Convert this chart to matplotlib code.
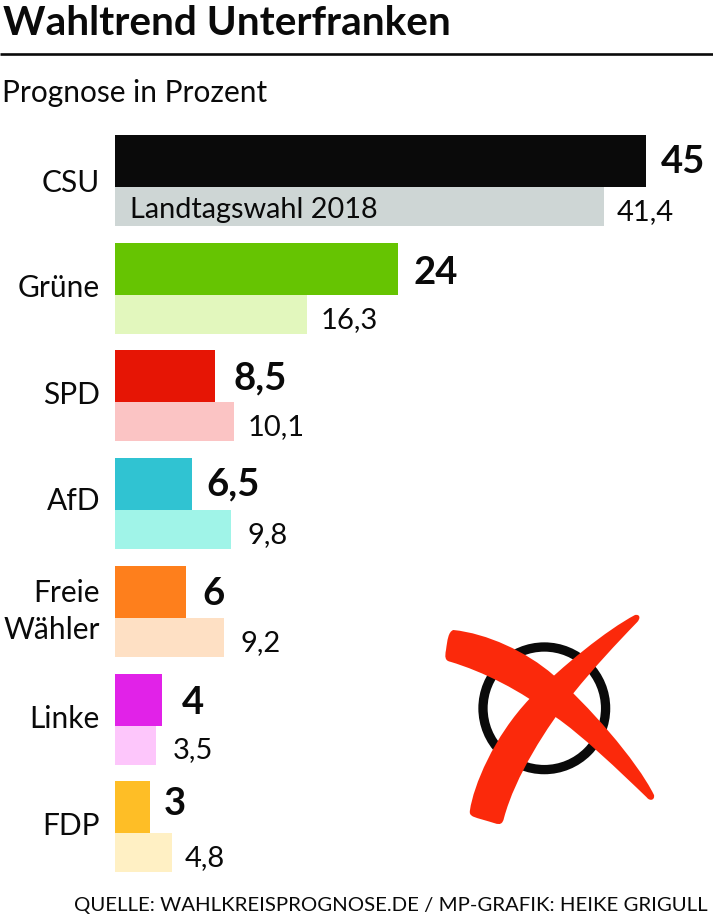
import matplotlib.pyplot as plt
from matplotlib.patches import PathPatch, Circle
from matplotlib.path import Path

# --- Wahltrend Unterfranken ---
parties = ["CSU", "Grüne", "SPD", "AfD", "Freie\nWähler", "Linke", "FDP"]
prognose = [45, 24, 8.5, 6.5, 6, 4, 3]
wahl_2018 = [41.4, 16.3, 10.1, 9.8, 9.2, 3.5, 4.8]
prognose_labels = ["45", "24", "8,5", "6,5", "6", "4", "3"]
wahl_labels = ["41,4", "16,3", "10,1", "9,8", "9,2", "3,5", "4,8"]
dark_colors = ["#0a0a0a", "#66c402", "#e61505", "#30c3d2", "#fe7f1c", "#e122e8", "#febe26"]
light_colors = ["#ced6d5", "#e2f7bd", "#fbc4c4", "#a0f4e8", "#fee0c4", "#fdc6fb", "#fff0c4"]

# hand nudges in px, the labels in the original are not set evenly
bold_gap = [15, 15, 18, 15, 17, 20, 13]
bold_base = [38, 41, 39, 37, 39, 40, 34]
small_gap = [13, 13, 13, 17, 17, 16, 13]
name_base = [57, 54, 54, 52, 0, 54, 54]

W, H = 713, 918
PX = 11.8  # px per percent
plt.rcParams["font.family"] = ["Lato", "DejaVu Sans"]

fig = plt.figure(figsize=(W / 100, H / 100), dpi=100, facecolor="white")

# overlay in pixel coordinates for rule, and cross
bg = fig.add_axes([0, 0, 1, 1])
bg.set_xlim(0, W)
bg.set_ylim(H, 0)
bg.axis("off")


def txt(x, y, s, size, weight="normal", ha="left", va="baseline", **kw):
    bg.text(x, y, s, fontsize=size, fontweight=weight, ha=ha, va=va, color="#0a0a0a", **kw)


txt(3, 35, "Wahltrend Unterfranken", 29.2, "bold")
bg.plot([0, W], [53.5, 53.5], color="#0a0a0a", lw=1.9, solid_capstyle="butt")
txt(2, 102, "Prognose in Prozent", 21.5)
txt(74, 911, "QUELLE: WAHLKREISPROGNOSE.DE / MP-GRAFIK: HEIKE GRIGULL", 14.7)

# bars: one row is 107.7 px
ax = fig.add_axes([115 / W, 1 - 880 / H, 598 / W, (880 - 120) / H])
ax.set_xlim(0, 598 / PX)
ax.set_ylim(880, 120)
ax.axis("off")
ax.patch.set_alpha(0)

pitch = 107.7
for i, party in enumerate(parties):
    top = 135 + i * pitch
    ax.barh(top + 26, prognose[i], height=52, color=dark_colors[i], linewidth=0)
    ax.barh(top + 71.5, wahl_2018[i], height=39, color=light_colors[i], linewidth=0)
    ax.text(prognose[i] + bold_gap[i] / PX, top + bold_base[i], prognose_labels[i], fontsize=27.5,
            fontweight="bold", ha="left", va="baseline", color="#0a0a0a")
    ax.text(wahl_2018[i] + small_gap[i] / PX, top + 85, wahl_labels[i], fontsize=21,
            ha="left", va="baseline", color="#0a0a0a")
    if "\n" in party:
        first, second = party.split("\n")
        txt(100, top + 36, first, 21.5, ha="right")
        txt(100, top + 73, second, 21.5, ha="right")
    else:
        txt(100, top + name_base[i], party, 21.5, ha="right")

ax.text(15 / PX, 135 + 83, "Landtagswahl 2018", fontsize=20.8, ha="left", va="baseline", color="#0a0a0a")


def z(x, y):
    return (420 + x / 3, 590 + y / 3)


def blob(pts, color):
    verts = [z(*pts[0])]
    codes = [Path.MOVETO]
    for i in range(1, len(pts), 3):
        verts += [z(*p) for p in pts[i:i + 3]]
        codes += [Path.CURVE4] * 3
    verts.append(verts[0])
    codes.append(Path.CLOSEPOLY)
    bg.add_patch(PathPatch(Path(verts, codes), facecolor=color, edgecolor="none", zorder=5))


bg.add_patch(Circle((544.3, 708.3), 61.3, fill=False, edgecolor="#0a0a0a", lw=9.3 * 0.72, zorder=4))
red = "#fb290b"
blob([(100, 120),
      (200, 130), (320, 185), (400, 255),
      (500, 340), (650, 510), (702, 615),
      (705, 630), (690, 635), (680, 622),
      (600, 545), (480, 430), (405, 380),
      (300, 300), (190, 245), (90, 215),
      (75, 212), (74, 200), (78, 180),
      (82, 150), (85, 125), (100, 120)], red)
blob([(150, 660),
      (160, 590), (220, 440), (330, 325),
      (430, 225), (560, 120), (645, 75),
      (660, 72), (663, 85), (650, 98),
      (590, 160), (520, 235), (460, 310),
      (380, 410), (285, 560), (252, 684),
      (248, 702), (240, 705), (225, 700),
      (200, 692), (175, 686), (160, 680),
      (150, 675), (148, 670), (150, 660)], red)

fig.savefig("out.png", dpi=100)
